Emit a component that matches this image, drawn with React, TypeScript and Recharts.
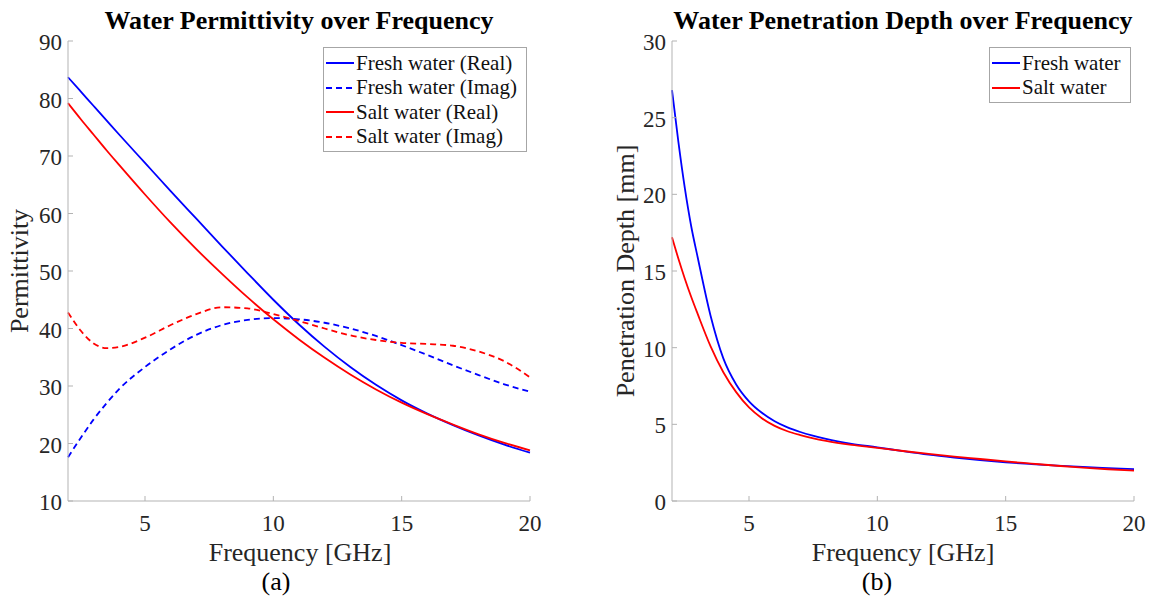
import { LineChart, Line, XAxis, YAxis } from "recharts";

// Frequency [GHz]
const freqA = [2, 2.5, 3, 3.5, 4, 5, 6, 7, 8, 9, 10, 11, 12, 13, 14, 15, 16, 17, 18, 19, 20];
const freshReal = [83.7, 81.2, 78.7, 76.2, 73.7, 68.8, 63.9, 59.1, 54.3, 49.6, 45.0, 40.7, 36.8, 33.3, 30.2, 27.5, 25.2, 23.2, 21.4, 19.8, 18.4];
const freshImag = [17.6, 21.0, 24.2, 27.0, 29.5, 33.3, 36.4, 38.9, 40.6, 41.5, 41.8, 41.6, 41.0, 40.0, 38.7, 37.1, 35.4, 33.6, 31.9, 30.3, 29.0];
const saltReal = [79.2, 76.4, 73.7, 71.0, 68.4, 63.3, 58.4, 53.8, 49.5, 45.4, 41.6, 38.1, 34.9, 32.0, 29.4, 27.1, 25.1, 23.3, 21.6, 20.1, 18.8];
const saltImag = [42.8, 39.6, 37.4, 36.6, 36.8, 38.4, 40.6, 42.5, 43.7, 43.5, 42.5, 41.3, 40.0, 38.8, 38.0, 37.5, 37.3, 37.0, 36.0, 34.3, 31.5];

const freqB = [2, 2.25, 2.5, 2.75, 3, 3.5, 4, 4.5, 5, 5.5, 6, 6.5, 7, 8, 9, 10, 11, 12, 13, 14, 15, 16, 17, 18, 19, 20];
const freshDepth = [26.8, 23.4, 20.4, 17.9, 15.9, 12.1, 9.3, 7.6, 6.5, 5.75, 5.2, 4.8, 4.5, 4.05, 3.73, 3.5, 3.25, 3.02, 2.83, 2.66, 2.52, 2.41, 2.31, 2.22, 2.15, 2.08];
const saltDepth = [17.2, 15.8, 14.5, 13.3, 12.2, 10.1, 8.4, 7.1, 6.1, 5.4, 4.9, 4.55, 4.3, 3.92, 3.66, 3.47, 3.26, 3.07, 2.9, 2.74, 2.58, 2.44, 2.3, 2.18, 2.07, 1.98];

const xTicks = [5, 10, 15, 20];
const yTicksA = [10, 20, 30, 40, 50, 60, 70, 80, 90];
const yTicksB = [0, 5, 10, 15, 20, 25, 30];

const legendA = [
  { name: "Fresh water (Real)", color: "#0000ff", dash: "" },
  { name: "Fresh water (Imag)", color: "#0000ff", dash: "6 4" },
  { name: "Salt water (Real)", color: "#ff0000", dash: "" },
  { name: "Salt water (Imag)", color: "#ff0000", dash: "6 4" },
];
const legendB = [
  { name: "Fresh water", color: "#0000ff", dash: "" },
  { name: "Salt water", color: "#ff0000", dash: "" },
];

const permData = freqA.map((f, i) => ({
  f,
  freshReal: freshReal[i],
  freshImag: freshImag[i],
  saltReal: saltReal[i],
  saltImag: saltImag[i],
}));
const depthData = freqB.map((f, i) => ({ f, fresh: freshDepth[i], salt: saltDepth[i] }));

const FONT = "'Liberation Serif', 'Times New Roman', serif";
const AXIS = "#b3b3b3";
const TXT = "#262626";

const XTick = (props: any) => {
  const { x, y, payload } = props;
  return (
    <g>
      <line x1={x} x2={x} y1={y} y2={y - 5} stroke={AXIS} />
      <text x={x} y={y + 22} dy="0.35em" textAnchor="middle" fill={TXT} fontSize={23} fontFamily={FONT}>
        {payload.value}
      </text>
    </g>
  );
};

const YTick = (props: any) => {
  const { x, y, payload } = props;
  return (
    <g>
      <line x1={x} x2={x + 5} y1={y} y2={y} stroke={AXIS} />
      <text x={x - 6} y={y + 1} dy="0.35em" textAnchor="end" fill={TXT} fontSize={23} fontFamily={FONT}>
        {payload.value}
      </text>
    </g>
  );
};

function LegendBox({ items, left, top }: { items: { name: string; color: string; dash: string }[]; left: number; top: number }) {
  return (
    <div
      style={{
        position: "absolute",
        left,
        top,
        border: "1px solid #a6a6a6",
        background: "#fff",
        padding: "3px 9px 2px 2px",
        fontFamily: FONT,
        fontSize: 21,
        color: "#111",
      }}
    >
      {items.map((it) => (
        <div key={it.name} style={{ display: "flex", alignItems: "center", height: 24.5, whiteSpace: "nowrap" }}>
          <svg width={28} height={6} style={{ marginRight: 2 }}>
            <line x1={0} x2={28} y1={3} y2={3} stroke={it.color} strokeWidth={2} strokeDasharray={it.dash || undefined} />
          </svg>
          <span>{it.name}</span>
        </div>
      ))}
    </div>
  );
}

const textStyle = (extra: any) => ({
  position: "absolute" as const,
  fontFamily: FONT,
  color: TXT,
  whiteSpace: "nowrap" as const,
  ...extra,
});

export default function App() {
  return (
    <div style={{ position: "absolute", left: 0, top: 0, width: 1152, height: 596, background: "#fff" }}>
      <div style={{ position: "absolute", left: 0, top: 0 }}>
        <LineChart width={576} height={596} data={permData} margin={{ top: 41, right: 46, left: 8, bottom: 65 }}>
          <XAxis
            dataKey="f"
            type="number"
            domain={[2, 20]}
            ticks={xTicks}
            tick={<XTick />}
            tickSize={0}
            tickMargin={0}
            tickLine={false}
            stroke={AXIS}
            height={30}
          />
          <YAxis
            type="number"
            domain={[10, 90]}
            ticks={yTicksA}
            tick={<YTick />}
            tickSize={0}
            tickMargin={0}
            tickLine={false}
            stroke={AXIS}
            width={60}
          />
          <Line dataKey="freshReal" type="monotone" stroke="#0000ff" strokeWidth={1.8} dot={false} isAnimationActive={false} />
          <Line dataKey="freshImag" type="monotone" stroke="#0000ff" strokeWidth={1.8} strokeDasharray="6 4" dot={false} isAnimationActive={false} />
          <Line dataKey="saltReal" type="monotone" stroke="#ff0000" strokeWidth={1.8} dot={false} isAnimationActive={false} />
          <Line dataKey="saltImag" type="monotone" stroke="#ff0000" strokeWidth={1.8} strokeDasharray="6 4" dot={false} isAnimationActive={false} />
        </LineChart>
      </div>

      <div style={{ position: "absolute", left: 576, top: 0 }}>
        <LineChart width={576} height={596} data={depthData} margin={{ top: 41, right: 18, left: 36, bottom: 65 }}>
          <XAxis
            dataKey="f"
            type="number"
            domain={[2, 20]}
            ticks={xTicks}
            tick={<XTick />}
            tickSize={0}
            tickMargin={0}
            tickLine={false}
            stroke={AXIS}
            height={30}
          />
          <YAxis
            type="number"
            domain={[0, 30]}
            ticks={yTicksB}
            tick={<YTick />}
            tickSize={0}
            tickMargin={0}
            tickLine={false}
            stroke={AXIS}
            width={60}
          />
          <Line dataKey="fresh" type="monotone" stroke="#0000ff" strokeWidth={1.8} dot={false} isAnimationActive={false} />
          <Line dataKey="salt" type="monotone" stroke="#ff0000" strokeWidth={1.8} dot={false} isAnimationActive={false} />
        </LineChart>
      </div>

      <LegendBox items={legendA} left={323} top={47} />
      <LegendBox items={legendB} left={989} top={47} />

      {/* titles */}
      <div style={textStyle({ left: 299, top: 21, transform: "translate(-50%, -50%)", fontSize: 26, fontWeight: "bold", color: "#000" })}>
        Water Permittivity over Frequency
      </div>
      <div style={textStyle({ left: 903, top: 21, transform: "translate(-50%, -50%)", fontSize: 26, fontWeight: "bold", color: "#000" })}>
        Water Penetration Depth over Frequency
      </div>

      {/* axis labels */}
      <div style={textStyle({ left: 300, top: 553, transform: "translate(-50%, -50%)", fontSize: 26 })}>Frequency [GHz]</div>
      <div style={textStyle({ left: 903, top: 553, transform: "translate(-50%, -50%)", fontSize: 26 })}>Frequency [GHz]</div>
      <div style={textStyle({ left: 20, top: 271, transform: "translate(-50%, -50%) rotate(-90deg)", fontSize: 26 })}>Permittivity</div>
      <div style={textStyle({ left: 626, top: 271, transform: "translate(-50%, -50%) rotate(-90deg)", fontSize: 26 })}>
        Penetration Depth [mm]
      </div>

      {/* captions */}
      <div style={textStyle({ left: 276, top: 582, transform: "translate(-50%, -50%)", fontSize: 26, color: "#000" })}>(a)</div>
      <div style={textStyle({ left: 877, top: 582, transform: "translate(-50%, -50%)", fontSize: 26, color: "#000" })}>(b)</div>
    </div>
  );
}
